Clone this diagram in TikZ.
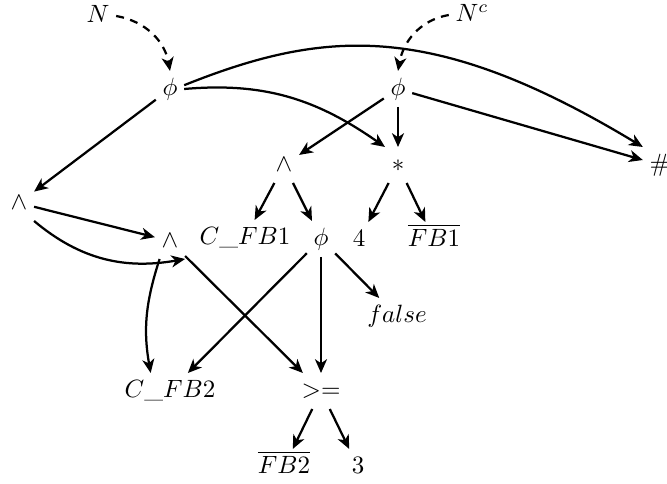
\documentclass[tikz,border=0pt]{standalone}
\usetikzlibrary{arrows.meta}
\begin{document}
\begin{tikzpicture}[x=0.4pt,y=-0.4pt,
  lbl/.style={inner sep=2.5pt,text height=7pt,text depth=2pt},
  arr/.style={-{Stealth[length=5.5pt,width=4.8pt,inset=1.6pt]},line width=0.9pt},
  darr/.style={arr,dash pattern=on 3.2pt off 2.6pt}]
\useasboundingbox (0,0) rectangle (667,484);
% nodes
\node[lbl] (n)   at (98,16)   {$N$};
\node[lbl] (nc)  at (472,15)  {$N^c$};
\node[lbl] (p1)  at (170,89)  {$\phi$};
\node[lbl] (p2)  at (398,89)  {$\phi$};
\node[lbl] (lw)  at (19,203)  {$\wedge$};
\node[lbl] (mw)  at (170,241) {$\wedge$};
\node[lbl] (uw)  at (284,165) {$\wedge$};
\node[lbl] (st)  at (398,165) {$*$};
\node[lbl] (hs)  at (660,165) {$\#$};
\node[lbl] (cf1) at (245,238) {$C\_FB1$};
\node[lbl] (p3)  at (321,239) {$\phi$};
\node[lbl] (four) at (359,240) {$4$};
\node[lbl] (nf1) at (434,240) {$\overline{FB1}$};
\node[lbl] (fa)  at (397,316) {$false$};
\node[lbl] (cf2) at (170,391) {$C\_FB2$};
\node[lbl] (ge)  at (321,391) {$>=$};
\node[lbl] (nf2) at (284,467) {$\overline{FB2}$};
\node[lbl] (three) at (358,467) {$3$};
% dashed entry edges
\draw[darr] (n.east) to[out=-10,in=100] (p1.north);
\draw[darr] (nc.west) to[out=190,in=80] (p2.north);
% edges from the first phi
\draw[arr] (p1.15) .. controls +(140,-56) and +(-210,-127) .. (hs.north west);
\draw[arr] (p1.east) to[out=5,in=145] (st.north west);
\draw[arr] (p1) -- (lw);
% edges from the second phi
\draw[arr] (p2) -- (uw);
\draw[arr] (p2) -- (st);
\draw[arr] (p2) -- (hs);
% lower levels
\draw[arr] (uw) -- (cf1);
\draw[arr] (uw) -- (p3);
\draw[arr] (st) -- (four);
\draw[arr] (st) -- (nf1);
\draw[arr] (lw) -- (mw);
\draw[arr] (lw.south east) to[out=-40,in=190] (mw.south east);
\draw[arr] (mw.240) to[out=252,in=100] (cf2.137);
\draw[arr] (mw) -- (ge);
\draw[arr] (p3) -- (cf2);
\draw[arr] (p3) -- (ge);
\draw[arr] (p3) -- (fa);
\draw[arr] (ge) -- (nf2);
\draw[arr] (ge) -- (three);
\end{tikzpicture}
\end{document}
